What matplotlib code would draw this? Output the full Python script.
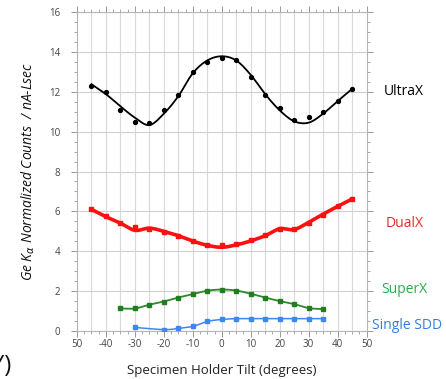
import numpy as np
import matplotlib
matplotlib.use('Agg')
import matplotlib.pyplot as plt
from matplotlib.ticker import MultipleLocator

plt.rcParams['font.family'] = ['Open Sans', 'DejaVu Sans']

# tilt angles (degrees)
tilt = [-45, -40, -35, -30, -25, -20, -15, -10, -5, 0, 5, 10, 15, 20, 25, 30, 35, 40, 45]

ultrax_pts = [12.30, 12.00, 11.09, 10.49, 10.41, 11.09, 11.85, 13.00, 13.50, 13.67,
              13.58, 12.75, 11.83, 11.21, 10.58, 10.73, 10.98, 11.56, 12.16]
ultrax_fit = [12.38, 11.88, 11.27, 10.70, 10.33, 10.90, 11.78, 12.93, 13.57, 13.78,
              13.57, 12.85, 11.88, 11.07, 10.52, 10.45, 10.90, 11.53, 12.14]

dualx_pts = [6.10, 5.78, 5.41, 5.20, 5.10, 4.98, 4.76, 4.51, 4.30, 4.29,
             4.36, 4.56, 4.81, 5.12, 5.12, 5.41, 5.84, 6.25, 6.62]
dualx_fit = [6.10, 5.73, 5.41, 5.05, 5.16, 5.00, 4.78, 4.51, 4.30, 4.20,
             4.32, 4.52, 4.78, 5.13, 5.09, 5.45, 5.86, 6.25, 6.62]

superx_tilt = [-35, -30, -25, -20, -15, -10, -5, 0, 5, 10, 15, 20, 25, 30, 35]
superx_pts = [1.13, 1.13, 1.32, 1.48, 1.68, 1.85, 2.02, 2.08, 2.03, 1.87, 1.68, 1.50, 1.35, 1.15, 1.10]

sdd_tilt = [-30, -20, -15, -10, -5, 0, 5, 10, 15, 20, 25, 30, 35]
sdd_pts = [0.18, 0.07, 0.13, 0.23, 0.48, 0.58, 0.62, 0.62, 0.62, 0.62, 0.62, 0.62, 0.62]

xtick_vals = [-50, -40, -30, -20, -10, 0, 10, 20, 30, 40, 50]
xtick_labels = ['50', '-40', '-30', '-20', '-10', '0', '10', '20', '30', '40', '50']


def smooth(x, y, n=24):
    # catmull-rom style smoothed line, like a spreadsheet "smoothed line"
    x = np.asarray(x, float)
    y = np.asarray(y, float)
    px = np.concatenate([[2 * x[0] - x[1]], x, [2 * x[-1] - x[-2]]])
    py = np.concatenate([[2 * y[0] - y[1]], y, [2 * y[-1] - y[-2]]])
    xs, ys = [], []
    t = np.linspace(0, 1, n, endpoint=False)
    for i in range(len(x) - 1):
        for p, out in ((px, xs), (py, ys)):
            p0, p1, p2, p3 = p[i:i + 4]
            out.append(0.5 * (2 * p1 + (-p0 + p2) * t + (2 * p0 - 5 * p1 + 4 * p2 - p3) * t ** 2
                              + (-p0 + 3 * p1 - 3 * p2 + p3) * t ** 3))
    xs.append([x[-1]])
    ys.append([y[-1]])
    return np.concatenate(xs), np.concatenate(ys)


fig = plt.figure(figsize=(4.46, 3.79), dpi=100)
ax = fig.add_axes([0.1726, 0.1266, 0.6492, 0.8417])

for v in range(-45, 50, 5):
    ax.axvline(v, color='#dadada', lw=0.8, zorder=0)
ax.yaxis.grid(True, color='#cfcfcf', lw=0.8)
ax.set_axisbelow(True)

# UltraX
ax.plot(*smooth(tilt, ultrax_fit), color='black', lw=1.3, zorder=3)
ax.plot(tilt, ultrax_pts, 'o', color='black', ms=2.8, zorder=4)

# DualX
ax.plot(*smooth(tilt, dualx_fit), color='#ff1010', lw=2.6, zorder=3)
ax.plot(tilt, dualx_pts, 's', color='#ff1010', ms=2.6, zorder=4)

# SuperX
ax.plot(*smooth(superx_tilt, superx_pts), color='#2b8a2b', lw=1.3, zorder=3)
ax.plot(superx_tilt, superx_pts, 's', color='#1f7f1f', ms=3.0, zorder=4)

# Single SDD
ax.plot(*smooth(sdd_tilt, sdd_pts), color='#3d87f5', lw=1.1, zorder=3)
ax.plot(sdd_tilt, sdd_pts, 's', color='#3d87f5', ms=2.3, zorder=4)

ax.set_xlim(-50, 50)
ax.set_ylim(0, 16)
ax.set_xticks(xtick_vals)
ax.set_xticklabels(xtick_labels)
ax.xaxis.set_minor_locator(MultipleLocator(2.5))
ax.yaxis.set_major_locator(MultipleLocator(2))
ax.yaxis.set_minor_locator(MultipleLocator(0.5))
ax.tick_params(which='both', direction='out', colors='#999999', labelcolor='#444444',
               labelsize=7, top=True, right=True)
ax.tick_params(which='major', length=4, width=0.7)
ax.tick_params(which='minor', length=2.5, width=0.6)
ax.tick_params(axis='y', pad=8)
ax.tick_params(axis='x', pad=2)
for s in ax.spines.values():
    s.set_color('#b5b5b5')
    s.set_linewidth(0.8)

ax.set_xlabel('Specimen Holder Tilt (degrees)', fontsize=9.5, color='#222222', labelpad=10)
ax.set_ylabel(r'Ge K$_\alpha$ Normalized Counts  / nA-Lsec', fontsize=10, style='italic',
              color='#111111', labelpad=9)

ax.text(63, 12.0, 'UltraX', color='black', fontsize=10, ha='center', va='center', clip_on=False)
ax.text(63.3, 5.41, 'DualX', color='#e8262a', fontsize=10, ha='center', va='center', clip_on=False)
ax.text(63.1, 2.09, 'SuperX', color='#27ae4a', fontsize=10, ha='center', va='center', clip_on=False)
ax.text(63.9, 0.3, 'Single SDD', color='#2f7fe0', fontsize=10, ha='center', va='center', clip_on=False)

fig.text(11 / 446, 1 - 366 / 379, '(Y)', fontsize=17, ha='right', va='center', color='#111111')

fig.savefig('out.png', dpi=100)
